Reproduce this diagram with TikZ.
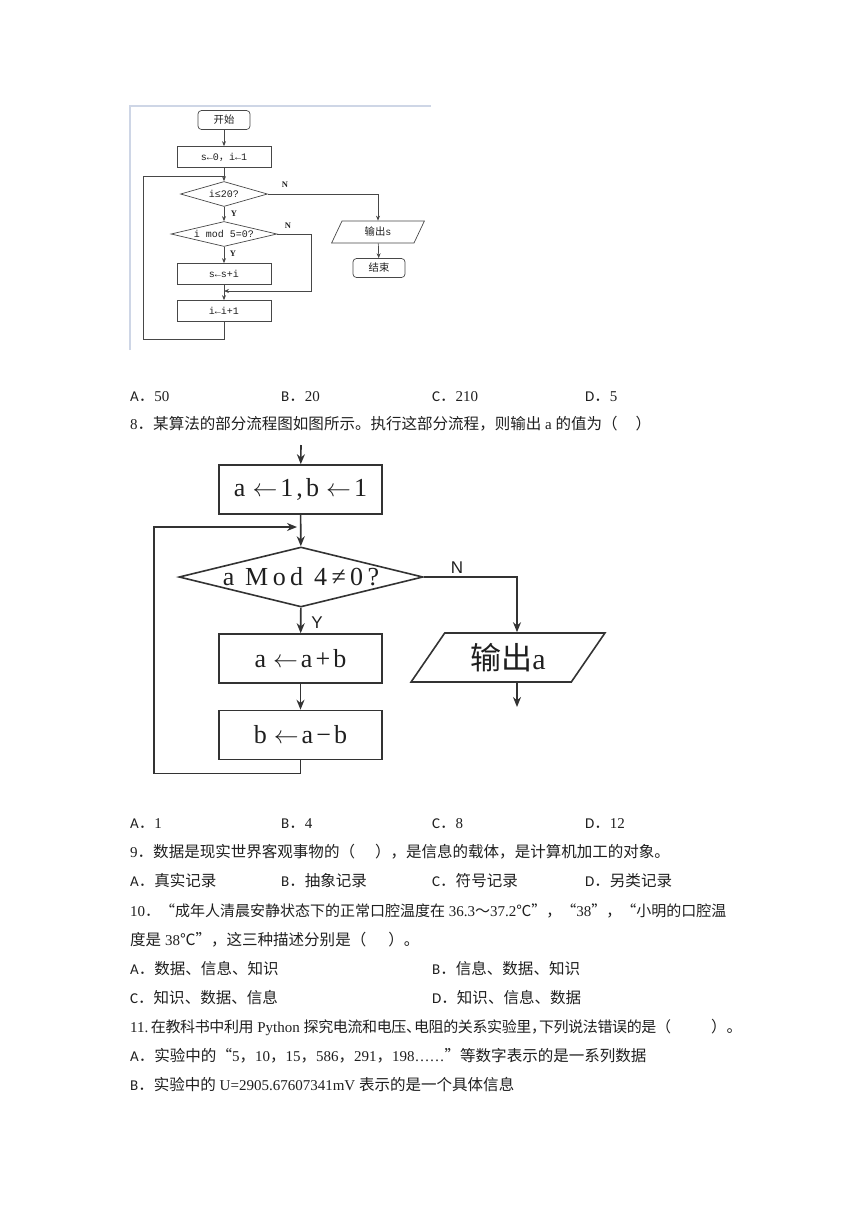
\documentclass[tikz,border=0pt]{standalone}
\usepackage{fontspec}
\setmainfont{Liberation Serif}
\setsansfont{Liberation Sans}
\setmonofont{Liberation Mono}
\newfontfamily\cjk{Noto Sans CJK SC}[Scale=1.035]
\newfontfamily\cjkp{Noto Sans CJK SC}
\newfontfamily\cjkn{Noto Sans CJK SC}[LetterSpace=-2.5]
\newfontfamily\optf{Carlito}
\newfontfamily\chartf{Liberation Serif}[LetterSpace=12]
\newfontfamily\chartw{Liberation Serif}[LetterSpace=17]
\usetikzlibrary{arrows.meta,shapes.geometric}
\definecolor{framec}{RGB}{206,214,230}
\newcommand\zh[1]{{\cjk #1}}
\newcommand\zhp[1]{{\cjkp #1}}
\newcommand\zhn[1]{{\cjkn #1}}
\newcommand\opt[1]{{\optf #1}{\cjk ．}}
\newcommand\larr{\hspace{7pt}$\leftarrow$\hspace{3pt}}

\begin{document}
\begin{tikzpicture}[
    x=1pt, y=-1pt,
    every node/.style={inner sep=0pt, text=black!88},
    txt/.style={anchor=base west, font=\fontsize{15}{18}\selectfont},
    frame/.style={draw=framec, line width=1.6pt},
    sline/.style={draw=black!72, line width=0.7pt},
    sarr/.style={sline, -{Stealth[length=5pt,width=4pt]}},
    sfont/.style={font=\ttfamily\fontsize{10}{11}\selectfont},
    sbox/.style={sline, sfont, rectangle, minimum width=94pt, minimum height=21pt},
    sterm/.style={sbox, rounded corners=3.5pt, minimum width=52pt, minimum height=19pt},
    sdia/.style={sline, diamond},
    spar/.style={sline, sfont, trapezium, trapezium left angle=68, trapezium right angle=112,
                 trapezium stretches=true, minimum width=93pt, minimum height=22pt},
    slab/.style={font=\fontsize{8.5}{9}\selectfont\bfseries},
    bline/.style={draw=black!80, line width=1.6pt},
    barr/.style={bline, -{Stealth[length=10pt,width=8pt]}},
    bbox/.style={bline, rectangle, minimum width=163pt, minimum height=49pt,
                 font=\chartf\fontsize{26}{28}\selectfont},
    bdia/.style={bline, diamond, minimum width=244pt, minimum height=60pt},
    btxt/.style={font=\chartw\fontsize{26}{28}\selectfont},
    bpar/.style={bline, trapezium, trapezium left angle=55, trapezium right angle=125,
                 trapezium stretches=true, minimum width=194pt, minimum height=49pt,
                 font=\chartf\fontsize{30}{32}\selectfont},
    blab/.style={font=\sffamily\fontsize{17}{18}\selectfont}
]
\useasboundingbox (0,0) rectangle (860,1216);

% question 7 flowchart (scanned picture)
\draw[frame] (130,350) -- (130,106) -- (431,106);
\node[sterm] (start) at (224,120) {\zh{开始}};
\node[sbox] (init) at (224,157) {s←0\zh{，}i←1};
\node[sdia, minimum width=87pt, minimum height=25pt,
      label={[sfont]center:i≤20?}] (c1) at (224,194) {};
\node[sdia, minimum width=106pt, minimum height=25pt,
      label={[sfont]center:i mod 5=0?}] (c2) at (224,234) {};
\node[sbox] (sum) at (224,274) {s←s+i};
\node[sbox] (inc) at (224,311) {i←i+1};
\node[spar] (outs) at (378,232) {\zh{输出}s};
\node[sterm] (fin) at (379,268) {\zh{结束}};
\node[slab] (n1) at (285,185) {N};
\node[slab] (y1) at (234,214) {Y};
\node[slab] (n2) at (288,226) {N};
\node[slab] (y2) at (233,254) {Y};
\coordinate (sj1) at (224,176);
\coordinate (sj2) at (224,291);

\foreach \a/\b in {start/init, init/c1, c1/c2, c2/sum, sum/inc, outs/fin}
    \draw[sarr] (\a) -- (\b);
\draw[sarr] (c1.east) -| (outs.north);
\draw[sarr] (c2.east) -- ++(34,0) |- (sj2);
\draw[sline] (inc.south) -- ++(0,17) -| ([xshift=-81pt]sj1) -- (sj1);

% options
\node[txt] (q7a) at (130,401) {\opt{A}50};
\node[txt] (q7b) at (281,401) {\opt{B}20};
\node[txt] (q7c) at (432,401) {\opt{C}210};
\node[txt] (q7d) at (585,401) {\opt{D}5};
\node[txt] (q8) at (130,429) {8\zh{．某算法的部分流程图如图所示。执行这部分流程，则输出} a \zh{的值为（}\hspace{18pt}\zh{）}};

% question 8 flowchart
\node[bbox] (ini2) at (300.5,489.5) {a\larr1,b\larr1};
\node[bdia, label={[btxt]center:a Mod 4≠0?}] (cond) at (301,577) {};
\node[bbox] (upa) at (300.5,658.5) {a\larr a+b};
\node[bbox] (upb) at (300.5,735) {b\larr a−b};
\node[bpar] (outa) at (508,657.5) {\zh{输出}a};
\node[blab] (n3) at (457,568) {N};
\node[blab] (y3) at (317,623) {Y};
\coordinate (bin) at (301,445);
\coordinate (bj) at (297,527);
\coordinate (bout) at (517,707);

\foreach \a/\b in {bin/ini2, ini2/cond, cond/upa, upa/upb}
    \draw[barr] (\a) -- (\b);
\draw[barr] (upb.south) -- ++(0,13) -| ([xshift=-143pt]bj) -- (bj);
\draw[barr] (cond.east) -| ([xshift=9pt]outa.north);
\draw[barr] ([xshift=9pt]outa.south) -- (bout);

% questions 8 -- 11
\node[txt] (q8a) at (130,828) {\opt{A}1};
\node[txt] (q8b) at (281,828) {\opt{B}4};
\node[txt] (q8c) at (432,828) {\opt{C}8};
\node[txt] (q8d) at (585,828) {\opt{D}12};
\node[txt] (q9) at (130,857) {9\zh{．数据是现实世界客观事物的（}\hspace{20pt}\zh{），是信息的载体，是计算机加工的对象。}};
\node[txt] (q9a) at (130,886) {\opt{A}\zh{真实记录}};
\node[txt] (q9b) at (281,886) {\opt{B}\zh{抽象记录}};
\node[txt] (q9c) at (432,886) {\opt{C}\zh{符号记录}};
\node[txt] (q9d) at (585,886) {\opt{D}\zh{另类记录}};
\node[txt] (q10) at (130,916) {10\zhp{．“成年人清晨安静状态下的正常口腔温度在} 36.3\zhp{～}37.2\zhp{℃”，“}38\zhp{”，“小明的口腔温}};
\node[txt] (q10l) at (130,945) {\zh{度是} 38\zh{℃”，这三种描述分别是（}\hspace{22pt}\zh{）。}};
\node[txt] (q10a) at (130,974) {\opt{A}\zh{数据、信息、知识}};
\node[txt] (q10b) at (432,974) {\opt{B}\zh{信息、数据、知识}};
\node[txt] (q10c) at (130,1003) {\opt{C}\zh{知识、数据、信息}};
\node[txt] (q10d) at (432,1003) {\opt{D}\zh{知识、信息、数据}};
\node[txt] (q11) at (130,1032) {11.\,\zhn{在教科书中利用} Python \zhn{探究电流和电压、}\kern-7pt\zhn{电阻的关系实验里，}\kern-7pt\zhn{下列说法错误的是（}\hspace{40pt}\zh{）。}};
\node[txt] (q11a) at (130,1061) {\opt{A}\zh{实验中的“}5\zh{，}10\zh{，}15\zh{，}586\zh{，}291\zh{，}198……\zh{”等数字表示的是一系列数据}};
\node[txt] (q11b) at (130,1090) {\opt{B}\zh{实验中的} U=2905.67607341mV \zh{表示的是一个具体信息}};
\end{tikzpicture}
\end{document}
